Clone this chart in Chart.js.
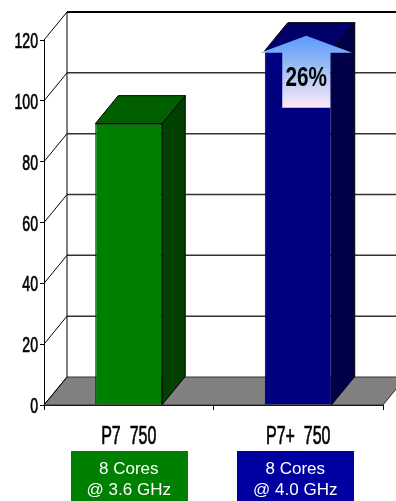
<!DOCTYPE html>
<html>
<head>
<meta charset="utf-8">
<script src="https://cdn.jsdelivr.net/npm/chart.js@4"></script>
<style>
    html, body { margin: 0; padding: 0; background: #fff; }
    canvas { display: block; }
</style>
</head>
<body>
<canvas id="perf-chart" width="396" height="501"></canvas>
<script>
// chart data
const categories = ["P7  750", "P7+  750"];
const performance = [92.5, 116.5];
const specLines = [
    ["8 Cores", "@ 3.6 GHz"],
    ["8 Cores", "@ 4.0 GHz"],
];
const yTicks = [0, 20, 40, 60, 80, 100, 120];
const gainLabel = "26%";

// colours per bar: front, side, top, spec box
const frontColors = ["#008000", "#000080"];
const sideColors = ["#004000", "#000048"];
const topColors = ["#006000", "#000068"];
const boxColors = ["#008000", "#0000a0"];

// 3d depth offset
const DX = 23;
const DY = 28;

const sans = "'Liberation Sans', Arial, sans-serif";

// the original uses a very condensed face, so squeeze text horizontally
function narrowText(ctx, text, x, y, size, squeeze, align, bold) {
    ctx.save();
    ctx.translate(x, y);
    ctx.scale(squeeze, 1);
    ctx.font = (bold ? "bold " : "") + size + "px " + sans;
    ctx.textAlign = align;
    ctx.textBaseline = "alphabetic";
    ctx.fillStyle = "#000";
    ctx.fillText(text, 0, 0);
    if (!bold) {
        // a bit heavier, like the original
        ctx.strokeStyle = "#000";
        ctx.lineWidth = 0.7;
        ctx.strokeText(text, 0, 0);
    }
    ctx.restore();
}

const threeD = {
    id: "threeD",
    beforeDatasetsDraw(chart) {
        const ctx = chart.ctx;
        const area = chart.chartArea;
        const y = chart.scales.y;
        const W = chart.width;
        const topVal = yTicks[yTicks.length - 1];

        ctx.save();
        // floor
        ctx.beginPath();
        ctx.moveTo(area.left, area.bottom);
        ctx.lineTo(area.right, area.bottom);
        ctx.lineTo(area.right + DX, area.bottom - DY);
        ctx.lineTo(area.left + DX, area.bottom - DY);
        ctx.closePath();
        ctx.fillStyle = "#808080";
        ctx.fill();
        ctx.strokeStyle = "#333";
        ctx.lineWidth = 1;
        ctx.stroke();

        // back wall gridlines + left wall diagonals
        yTicks.forEach((v) => {
            const py = y.getPixelForValue(v);
            if (v > 0) {
                ctx.beginPath();
                ctx.moveTo(area.left + DX, py - DY);
                ctx.lineTo(W, py - DY);
                ctx.strokeStyle = v === topVal ? "#000" : "#333";
                ctx.lineWidth = v === topVal ? 2 : 1.5;
                ctx.stroke();
            }
            ctx.beginPath();
            ctx.moveTo(area.left, py);
            ctx.lineTo(area.left + DX, py - DY);
            ctx.strokeStyle = "#000";
            ctx.lineWidth = 1;
            ctx.stroke();
        });
        // back wall left edge
        ctx.beginPath();
        ctx.moveTo(area.left + DX, y.getPixelForValue(topVal) - DY);
        ctx.lineTo(area.left + DX, area.bottom - DY);
        ctx.strokeStyle = "#000";
        ctx.lineWidth = 1;
        ctx.stroke();

        // side and top faces of the bars
        const meta = chart.getDatasetMeta(0);
        meta.data.forEach((bar, i) => {
            const p = bar.getProps(["x", "y", "base", "width"], true);
            const l = p.x - p.width / 2;
            const r = p.x + p.width / 2;
            ctx.lineWidth = 1;
            ctx.strokeStyle = "#000";

            ctx.beginPath();
            ctx.moveTo(r, p.y);
            ctx.lineTo(r + DX, p.y - DY);
            ctx.lineTo(r + DX, p.base - DY);
            ctx.lineTo(r, p.base);
            ctx.closePath();
            ctx.fillStyle = sideColors[i];
            ctx.fill();
            ctx.stroke();

            ctx.beginPath();
            ctx.moveTo(l, p.y);
            ctx.lineTo(l + DX, p.y - DY);
            ctx.lineTo(r + DX, p.y - DY);
            ctx.lineTo(r, p.y);
            ctx.closePath();
            ctx.fillStyle = topColors[i];
            ctx.fill();
            ctx.stroke();
        });
        ctx.restore();
    },
    afterDatasetsDraw(chart) {
        const ctx = chart.ctx;
        const meta = chart.getDatasetMeta(0);
        const last = meta.data.length - 1;
        const p = meta.data[last].getProps(["x", "y", "width"], true);

        // arrow on the faster bar
        const cx = p.x + 8;
        const tipY = p.y - 15;
        const headY = p.y + 2;
        const headHalf = 46;
        const shaftHalf = 24;
        const shaftBottom = p.y + 57;
        const grad = ctx.createLinearGradient(0, tipY, 0, shaftBottom);
        grad.addColorStop(0, "#5b98ff");
        grad.addColorStop(0.35, "#8cb6f4");
        grad.addColorStop(1, "#ffeaf8");
        ctx.save();
        ctx.beginPath();
        ctx.moveTo(cx, tipY);
        ctx.lineTo(cx + headHalf, headY);
        ctx.lineTo(cx + shaftHalf, headY);
        ctx.lineTo(cx + shaftHalf, shaftBottom);
        ctx.lineTo(cx - shaftHalf, shaftBottom);
        ctx.lineTo(cx - shaftHalf, headY);
        ctx.lineTo(cx - headHalf, headY);
        ctx.closePath();
        ctx.fillStyle = grad;
        ctx.fill();
        ctx.restore();

        narrowText(ctx, gainLabel, cx, p.y + 35, 28, 0.74, "center", true);

        // spec boxes under the category labels
        ctx.save();
        meta.data.forEach((bar, i) => {
            const b = bar.getProps(["x"], true);
            const bx = b.x - (i === last ? 3 : 0);
            const top = 451;
            ctx.fillStyle = boxColors[i];
            ctx.fillRect(Math.round(bx - 58), top, 117, chart.height - top);
            ctx.fillStyle = "#fff";
            ctx.font = "17px " + sans;
            ctx.textAlign = "center";
            ctx.textBaseline = "middle";
            specLines[i].forEach((line, k) => {
                ctx.fillText(line, bx, top + 18 + k * 21);
            });
        });
        ctx.restore();
    },
    afterDraw(chart) {
        const ctx = chart.ctx;
        const x = chart.scales.x;
        const y = chart.scales.y;
        // y tick labels
        y.ticks.forEach((t) => {
            narrowText(ctx, String(t.label), x.left - 6, y.getPixelForValue(t.value) + 8, 22, 0.64, "right", false);
        });
        // category labels
        x.ticks.forEach((t, i) => {
            narrowText(ctx, x.getLabelForValue(i), x.getPixelForTick(i), 444, 25, 0.64, "center", false);
        });
    },
};

new Chart(document.getElementById("perf-chart"), {
    type: "bar",
    data: {
        labels: categories,
        datasets: [
            {
                data: performance,
                backgroundColor: frontColors,
                borderColor: "#000",
                borderWidth: 1,
                categoryPercentage: 1,
                barPercentage: 0.395,
            },
        ],
    },
    options: {
        responsive: false,
        animation: false,
        devicePixelRatio: 1,
        layout: { padding: { top: 40, right: 13, left: 0, bottom: 0 } },
        plugins: {
            legend: { display: false },
            tooltip: { enabled: false },
        },
        scales: {
            x: {
                grid: { offset: true, drawOnChartArea: false, tickLength: 5, color: "#000" },
                border: { color: "#000", width: 1 },
                ticks: { display: false },
                afterFit: (scale) => { scale.height = 96; },
            },
            y: {
                min: 0,
                max: 120,
                grid: { drawOnChartArea: false, tickLength: 4, color: "#000" },
                border: { color: "#000", width: 1 },
                ticks: { display: false, stepSize: 20 },
                afterFit: (scale) => { scale.width = 44; },
            },
        },
    },
    plugins: [threeD],
});
</script>
</body>
</html>
